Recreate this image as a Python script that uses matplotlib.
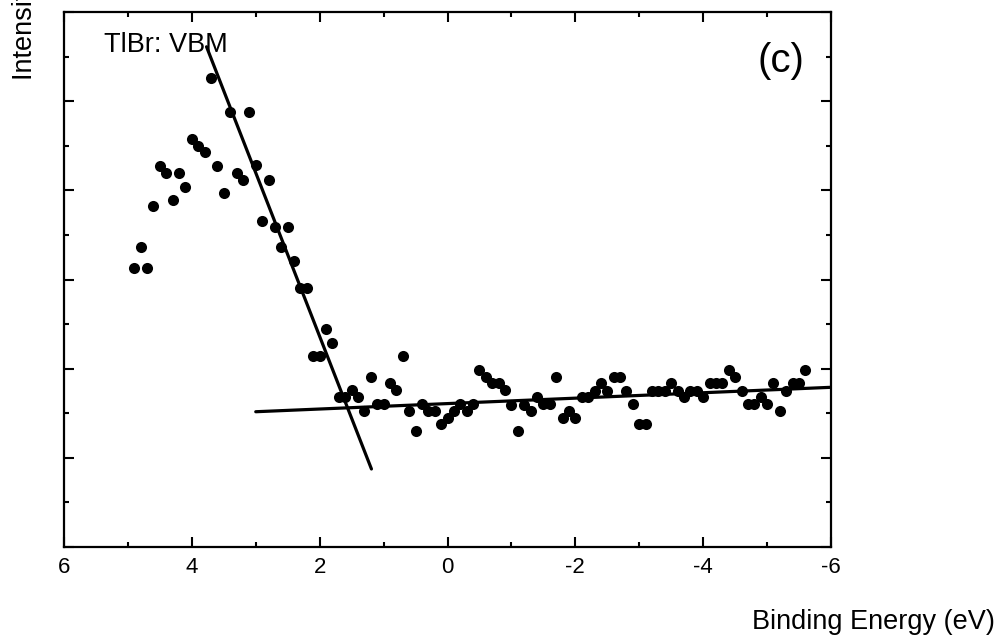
import matplotlib
matplotlib.use("Agg")
import matplotlib.pyplot as plt
from matplotlib.ticker import MultipleLocator, NullFormatter

plt.rcParams['font.family'] = ['Liberation Sans', 'DejaVu Sans']
plt.rcParams['axes.unicode_minus'] = False

# Binding energy (eV), 4.9 down to -5.6 in 0.1 eV steps
energy = [round(4.9 - 0.1 * i, 1) for i in range(106)]
intensity = [
    3.13, 3.36, 3.13, 3.82, 4.27, 4.20, 3.89, 4.20, 4.04, 4.58,
    4.50, 4.43, 5.26, 4.27, 3.97, 4.88, 4.20, 4.12, 4.88, 4.28,
    3.66, 4.12, 3.59, 3.36, 3.59, 3.21, 2.90, 2.90, 2.14, 2.14,
    2.44, 2.29, 1.68, 1.68, 1.76, 1.68, 1.53, 1.91, 1.60, 1.60,
    1.84, 1.76, 2.14, 1.53, 1.30, 1.60, 1.53, 1.53, 1.38, 1.45,
    1.53, 1.60, 1.53, 1.60, 1.99, 1.91, 1.84, 1.84, 1.76, 1.59,
    1.30, 1.59, 1.53, 1.68, 1.60, 1.60, 1.91, 1.45, 1.53, 1.45,
    1.68, 1.68, 1.75, 1.84, 1.75, 1.91, 1.91, 1.75, 1.60, 1.38,
    1.38, 1.75, 1.75, 1.75, 1.84, 1.75, 1.68, 1.75, 1.75, 1.68,
    1.84, 1.84, 1.84, 1.99, 1.91, 1.75, 1.60, 1.60, 1.68, 1.60,
    1.84, 1.53, 1.75, 1.84, 1.84, 1.99,
]

# Linear fits (edge and background)
edge_fit_E = [3.77, 1.19]
edge_fit_I = [5.61, 0.875]
bg_fit_E = [3.0, -6.0]
bg_fit_I = [1.517, 1.791]

fig = plt.figure(figsize=(9.96, 6.38), dpi=100)
ax = fig.add_axes([64/996, 1 - 547/638, (831 - 64)/996, (547 - 12)/638])

ax.plot(energy, intensity, 'o', color='black', markersize=8, markeredgewidth=0, zorder=3)
ax.plot(edge_fit_E, edge_fit_I, '-', color='black', linewidth=2.3, solid_capstyle='round', zorder=2)
ax.plot(bg_fit_E, bg_fit_I, '-', color='black', linewidth=2.3, solid_capstyle='round', zorder=2)

ax.set_xlim(6, -6)
ax.set_ylim(0, 6)
ax.xaxis.set_major_locator(MultipleLocator(2))
ax.xaxis.set_minor_locator(MultipleLocator(1))
ax.yaxis.set_major_locator(MultipleLocator(1))
ax.yaxis.set_minor_locator(MultipleLocator(0.5))
ax.yaxis.set_major_formatter(NullFormatter())

ax.tick_params(axis='both', which='both', direction='in', top=True, right=True, width=1.5, colors='black')
ax.tick_params(axis='both', which='major', length=7.5)
ax.tick_params(axis='both', which='minor', length=3.8)
ax.tick_params(axis='x', which='major', labelsize=16, pad=7)
for s in ax.spines.values():
    s.set_linewidth(1.6)

ax.text((104 - 64)/767, (547 - 52.5)/535, 'TlBr: VBM', transform=ax.transAxes,
        fontsize=19.5, ha='left', va='baseline')
ax.text((781 - 64)/767, (547 - 61)/535, '(c)', transform=ax.transAxes,
        fontsize=29, ha='center', va='center')

fig.text(995/996, 1 - 622/638, 'Binding Energy (eV)', fontsize=19.5, ha='right', va='center')
fig.text(25/996, 1 - 80/638, 'Intensity (a.u.)', fontsize=19.5, rotation=90, ha='center', va='bottom')

fig.savefig('out.png', dpi=100)
